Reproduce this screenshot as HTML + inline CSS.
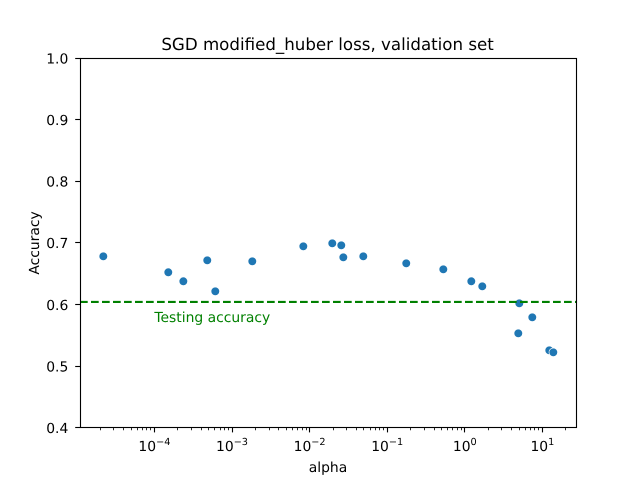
<!DOCTYPE html>
<html>
<head>
<meta charset="utf-8">
<title>SGD modified_huber loss, validation set</title>
<style>
html,body{margin:0;padding:0;background:#fff;width:640px;height:480px;overflow:hidden}
svg{display:block}
text{font-family:"DejaVu Sans","Liberation Sans",sans-serif;fill:#000;text-rendering:geometricPrecision}
</style>
</head>
<body>
<svg id="chart" width="640" height="480" viewBox="0 0 640 480" xmlns="http://www.w3.org/2000/svg">
  <rect x="0" y="0" width="640" height="480" fill="#fff"/>
  <g id="points"></g>
  <g id="reference"></g>
  <g id="x-ticks"></g>
  <g id="y-ticks"></g>
  <rect x="80.5" y="58.5" width="496" height="369" fill="none" stroke="#000" stroke-width="1.11"/>
  <text x="327.6" y="50" text-anchor="middle" font-size="16.67">SGD modified_huber loss, validation set</text>
  <text x="328" y="472" text-anchor="middle" font-size="13.89">alpha</text>
  <text transform="translate(38.8 243) rotate(-90)" text-anchor="middle" font-size="13.89">Accuracy</text>
</svg>
<script>
var alphaValues = [2.196e-5, 1.51e-4, 2.36e-4, 4.8e-4, 6.09e-4, 1.826e-3, 8.3e-3, 0.0196, 0.0256, 0.0272, 0.0492, 0.176, 0.5286, 1.213, 1.68, 5.04, 7.41, 4.89, 12.27, 13.82];
var accuracyValues = [0.6774, 0.6515, 0.6369, 0.6709, 0.6206, 0.6693, 0.6937, 0.6985, 0.6953, 0.6758, 0.6774, 0.6661, 0.6563, 0.6369, 0.6287, 0.6011, 0.5784, 0.5524, 0.5248, 0.5216];
var testingAccuracy = 0.6033;
var testingLabel = "Testing accuracy";
var testingLabelAlpha = 1e-4;
var testingLabelAccuracy = 0.5704;
var xDecades = [-4, -3, -2, -1, 0, 1];
var yTicks = [0.4, 0.5, 0.6, 0.7, 0.8, 0.9, 1.0];
var xDomain = [-4.9588, 1.433];
var yDomain = [0.4, 1.0];

var NS = "http://www.w3.org/2000/svg";
var plotLeft = 80, plotRight = 576, plotTop = 57.6, plotBottom = 427.2;

function xScale(alpha) {
  return plotLeft + (Math.log10(alpha) - xDomain[0]) / (xDomain[1] - xDomain[0]) * (plotRight - plotLeft);
}
function yScale(acc) {
  return plotBottom - (acc - yDomain[0]) / (yDomain[1] - yDomain[0]) * (plotBottom - plotTop);
}
function snap(v) {
  return Math.round(v) + 0.5;
}
function make(tag, parent) {
  var el = document.createElementNS(NS, tag);
  parent.appendChild(el);
  return el;
}
function tickLine(parent, x1, y1, x2, y2) {
  var l = make("line", parent);
  l.setAttribute("x1", x1);
  l.setAttribute("y1", y1);
  l.setAttribute("x2", x2);
  l.setAttribute("y2", y2);
  l.setAttribute("stroke", "#000");
  return l;
}

var pointsGroup = document.getElementById("points");
alphaValues.forEach(function (a, i) {
  var c = make("circle", pointsGroup);
  
  
  c.setAttribute("cx", xScale(a));
  c.setAttribute("cy", yScale(accuracyValues[i]));
  c.setAttribute("r", 4.3);
  c.setAttribute("fill", "#1f77b4");
  c.setAttribute("stroke", "#fff");
  c.setAttribute("stroke-width", 0.67);
});

var refGroup = document.getElementById("reference");
var refLine = make("line", refGroup);


refLine.setAttribute("x1", plotLeft);
refLine.setAttribute("x2", plotRight);
refLine.setAttribute("y1", yScale(testingAccuracy));
refLine.setAttribute("y2", yScale(testingAccuracy));
refLine.setAttribute("stroke", "#008000");
refLine.setAttribute("stroke-width", 2.08);
refLine.setAttribute("stroke-dasharray", "7.7 3.3");

var refText = make("text", refGroup);


refText.setAttribute("x", xScale(testingLabelAlpha));
refText.setAttribute("y", yScale(testingLabelAccuracy));
refText.setAttribute("font-size", 13.89);
refText.style.fill = "#008000";
refText.textContent = testingLabel;

var xGroup = document.getElementById("x-ticks");
var minorFactors = [2, 3, 4, 5, 6, 7, 8, 9];
for (var d = Math.floor(xDomain[0]); d <= Math.ceil(xDomain[1]); d++) {
  minorFactors.forEach(function (f) {
    var v = f * Math.pow(10, d);
    var lv = Math.log10(v);
    if (lv < xDomain[0] || lv > xDomain[1]) return;
    var x = snap(xScale(v) - 0.4);
    var m = tickLine(xGroup, x, plotBottom + 0.3, x, plotBottom + 3.1);
    m.setAttribute("stroke-width", 0.83);
    
    
  });
}
xDecades.forEach(function (d) {
  var xRaw = xScale(Math.pow(10, d));
  var x = snap(xRaw - 0.4);
  var t = tickLine(xGroup, x, plotBottom + 0.3, x, plotBottom + 5.2);
  t.setAttribute("stroke-width", 1.11);
  
  
  var label = make("text", xGroup);
  
  
  label.setAttribute("x", xRaw);
  label.setAttribute("y", 451);
  label.setAttribute("text-anchor", "middle");
  label.setAttribute("font-size", 13.89);
  label.appendChild(document.createTextNode("10"));
  var sup = make("tspan", label);
  sup.setAttribute("dy", -5.8);
  sup.setAttribute("font-size", 9.7);
  sup.textContent = String(d).replace("-", "\u2212");
});

var yGroup = document.getElementById("y-ticks");
yTicks.forEach(function (v) {
  var yRaw = yScale(v);
  var y = snap(yRaw);
  var t = tickLine(yGroup, 80.5, y, 75.2, y);
  t.setAttribute("stroke-width", 1.11);
  
  
  var label = make("text", yGroup);
  
  
  label.setAttribute("x", 68.3);
  label.setAttribute("y", yRaw + 5.8);
  label.setAttribute("text-anchor", "end");
  label.setAttribute("font-size", 13.89);
  label.textContent = v.toFixed(1);
});
</script>
</body>
</html>
